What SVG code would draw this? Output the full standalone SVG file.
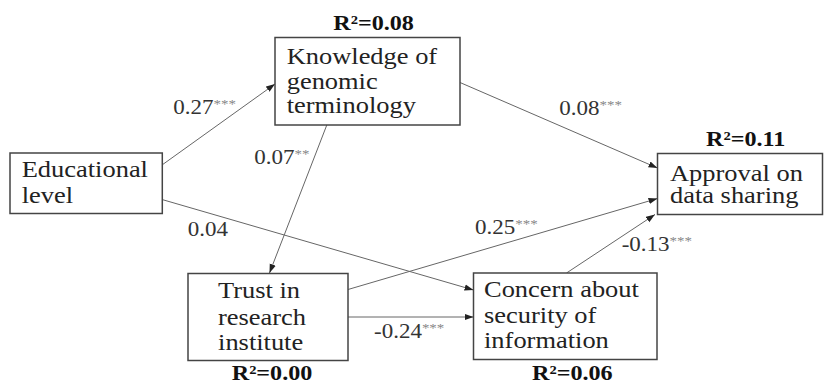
<svg xmlns="http://www.w3.org/2000/svg" width="825" height="384" viewBox="0 0 825 384">
<style>
.box{fill:#fff;stroke:#444;stroke-width:1.5}
.node{font-family:"Liberation Serif","Times New Roman",serif;font-size:23px;fill:#222}
.lab{font-family:"Liberation Serif","Times New Roman",serif;font-size:20px;fill:#333}
.ast{font-size:13px;fill:#888}
.r2{font-family:"Liberation Serif","Times New Roman",serif;font-size:21px;font-weight:bold;fill:#111}
.edge{fill:none;stroke:#666;stroke-width:1;marker-end:url(#arr)}
</style>
<defs>
<marker id="arr" markerUnits="userSpaceOnUse" markerWidth="10" markerHeight="8" refX="9" refY="4" orient="auto">
<path d="M0,0.8 L9,4 L0,7.2 Z" fill="#222"/>
</marker>
</defs>
<rect width="825" height="384" fill="#fff"/>
<g id="connectors">
<line class="edge" x1="162" y1="165" x2="275" y2="84"/>
<line class="edge" x1="327" y1="124.5" x2="269.5" y2="273"/>
<line class="edge" x1="460" y1="82.5" x2="657.5" y2="168"/>
<line class="edge" x1="162" y1="199.5" x2="473.5" y2="290"/>
<line class="edge" x1="348" y1="289.5" x2="657.5" y2="198.5"/>
<line class="edge" x1="348" y1="317" x2="473.5" y2="317"/>
<line class="edge" x1="566.5" y1="273" x2="655" y2="214.5"/>
</g>
<g id="labels" transform="scale(1.15 1)">
<text class="lab" x="150.7" y="114.3">0.27<tspan class="ast" dy="-6">***</tspan></text>
<text class="lab" x="221.1" y="164">0.07<tspan class="ast" dy="-6">**</tspan></text>
<text class="lab" x="486.3" y="115">0.08<tspan class="ast" dy="-6">***</tspan></text>
<text class="lab" x="163.2" y="236">0.04</text>
<text class="lab" x="413" y="234.3">0.25<tspan class="ast" dy="-6">***</tspan></text>
<text class="lab" x="540.6" y="251">-0.13<tspan class="ast" dy="-6">***</tspan></text>
<text class="lab" x="325.2" y="338.3">-0.24<tspan class="ast" dy="-6">***</tspan></text>
</g>
<g id="knowledge">
<rect class="box" x="275" y="37.5" width="185" height="87.5"/>
<g transform="scale(1.15 1)">
<text class="node" x="249.3" y="64.3">Knowledge of</text>
<text class="node" x="249.3" y="89.5">genomic</text>
<text class="node" x="249.3" y="113.5">terminology</text>
<text class="r2" x="289.8" y="30">R²=0.08</text>
</g>
</g>
<g id="educational">
<rect class="box" x="10" y="153" width="152.3" height="60.5"/>
<g transform="scale(1.15 1)">
<text class="node" x="18.9" y="176.7">Educational</text>
<text class="node" x="18.9" y="203">level</text>
</g>
</g>
<g id="approval">
<rect class="box" x="657.5" y="153.5" width="165" height="61"/>
<g transform="scale(1.15 1)">
<text class="node" x="582.6" y="181">Approval on</text>
<text class="node" x="582.6" y="203.5">data sharing</text>
<text class="r2" x="613.9" y="145.7">R²=0.11</text>
</g>
</g>
<g id="trust">
<rect class="box" x="188" y="273.5" width="160" height="87"/>
<g transform="scale(1.15 1)">
<text class="node" x="189.6" y="298.3">Trust in</text>
<text class="node" x="189.6" y="325">research</text>
<text class="node" x="189.6" y="350">institute</text>
<text class="r2" x="201.5" y="380">R²=0.00</text>
</g>
</g>
<g id="concern">
<rect class="box" x="473.5" y="273" width="183.5" height="86.5"/>
<g transform="scale(1.15 1)">
<text class="node" x="420.9" y="297.3">Concern about</text>
<text class="node" x="420.9" y="323.3">security of</text>
<text class="node" x="420.9" y="348.3">information</text>
<text class="r2" x="462.6" y="380">R²=0.06</text>
</g>
</g>
</svg>
